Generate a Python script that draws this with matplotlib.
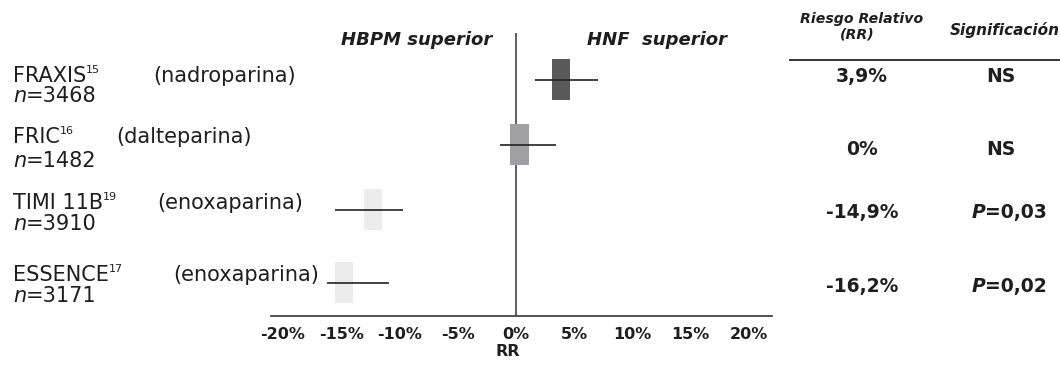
import numpy as np
import matplotlib
matplotlib.use("Agg")
import matplotlib.pyplot as plt
from matplotlib.transforms import IdentityTransform

# datos del ensayo
studies = ["FRAXIS", "FRIC", "TIMI 11B", "ESSENCE"]
refs = ["15", "16", "19", "17"]
drugs = ["(nadroparina)", "(dalteparina)", "(enoxaparina)", "(enoxaparina)"]
n_patients = [3468, 1482, 3910, 3171]
point_est = [3.9, 0.3, -12.3, -14.8]
ci_low = [1.6, -1.4, -15.5, -16.2]
ci_high = [7.0, 3.4, -9.7, -10.9]
rr_text = ["3,9%", "0%", "-14,9%", "-16,2%"]
signif = ["NS", "NS", "P=0,03", "P=0,02"]
ticks = [-20, -15, -10, -5, 0, 5, 10, 15, 20]
box_colors = ["#595959", "#a0a0a3", "#ececec", "#ececec"]

W, H = 1060, 366
plt.rcParams['font.family'] = ['DejaVu Sans']
fig = plt.figure(figsize=(W / 100, H / 100), dpi=100)
renderer = fig.canvas.get_renderer()
ident = IdentityTransform()


def put(parts, x, y, ha="left", color="#1e1e1e"):
    # escribe varias piezas de texto seguidas (x, y en pixeles desde arriba)
    texts = []
    cx = x
    for s, kw in parts:
        t = fig.text(cx, H - y + kw.pop("dy", 0), s, transform=ident,
                     va="baseline", ha="left", color=color, **kw)
        cx = t.get_window_extent(renderer).x1
        texts.append(t)
    if ha == "center":
        shift = (cx - x) / 2
        for t in texts:
            px, py = t.get_position()
            t.set_position((px - shift, py))
    return texts


# panel del forest plot
ax = fig.add_axes([271 / W, 50 / H, 501 / W, 283 / H])
row_y = [0, 1, 2, 3.12]
box_w = 1.55

ax.barh(row_y, box_w, left=np.array(point_est) - box_w / 2, height=0.63,
        color=box_colors, zorder=3)
ax.hlines(row_y, ci_low, ci_high, color="#222222", lw=1.2, zorder=4)
ax.axvline(0, color="#444444", lw=1.2, zorder=2)

ax.set_xlim(-21.03, 21.97)
ax.set_ylim(3.63, -0.72)
for s in ["top", "left", "right"]:
    ax.spines[s].set_visible(False)
ax.spines["bottom"].set_color("#333333")
ax.spines["bottom"].set_linewidth(1.2)
ax.set_yticks([])
ax.set_xticks(ticks)
ax.set_xticklabels(["%d%%" % t for t in ticks], fontsize=11.5,
                   fontweight="bold", color="#1e1e1e")
ax.tick_params(axis="x", length=0, pad=8)

put([("RR", dict(fontsize=11.5, fontweight="bold"))], 508, 356, ha="center")

# cabeceras
bi = dict(fontsize=13, fontweight="bold", style="italic")
t = put([("HBPM superior", dict(bi))], 0, 45)[0]
t.set_position((492 - t.get_window_extent(renderer).width, H - 45))
put([("HNF  superior", dict(bi))], 587, 45)

hs = dict(fontsize=10.2, fontweight="bold", style="italic")
put([("Riesgo Relativo", dict(hs))], 862, 23, ha="center")
put([("(RR)", dict(hs))], 857, 39, ha="center")
put([("Significación", dict(hs, fontsize=11))], 950, 35)

fig.add_artist(plt.Line2D([790 / W, 1.0], [1 - 60 / H, 1 - 60 / H],
                          color="#222222", lw=1.3))

# etiquetas de los estudios
name_base = [82, 143, 209, 281]
n_base = [102, 167, 230, 302]
drug_x = [153, 116, 157, 173]
for i in range(len(studies)):
    put([(studies[i], dict(fontsize=15)),
         (refs[i], dict(fontsize=8, dy=9))], 13, name_base[i])
    put([(drugs[i], dict(fontsize=15))], drug_x[i], name_base[i])
    put([("n", dict(fontsize=15, style="italic")),
         ("=%d" % n_patients[i], dict(fontsize=15))], 13, n_base[i])

# tabla de la derecha
val_base = [82, 155, 218, 292]
b = dict(fontsize=13.5, fontweight="bold")
for i in range(len(studies)):
    put([(rr_text[i], dict(b))], 862, val_base[i], ha="center")
    if signif[i].startswith("P"):
        put([("P", dict(b, style="italic")), (signif[i][1:], dict(b))],
            1009, val_base[i], ha="center")
    else:
        put([(signif[i], dict(b))], 1001, val_base[i], ha="center")

fig.savefig("out.png", dpi=100)
